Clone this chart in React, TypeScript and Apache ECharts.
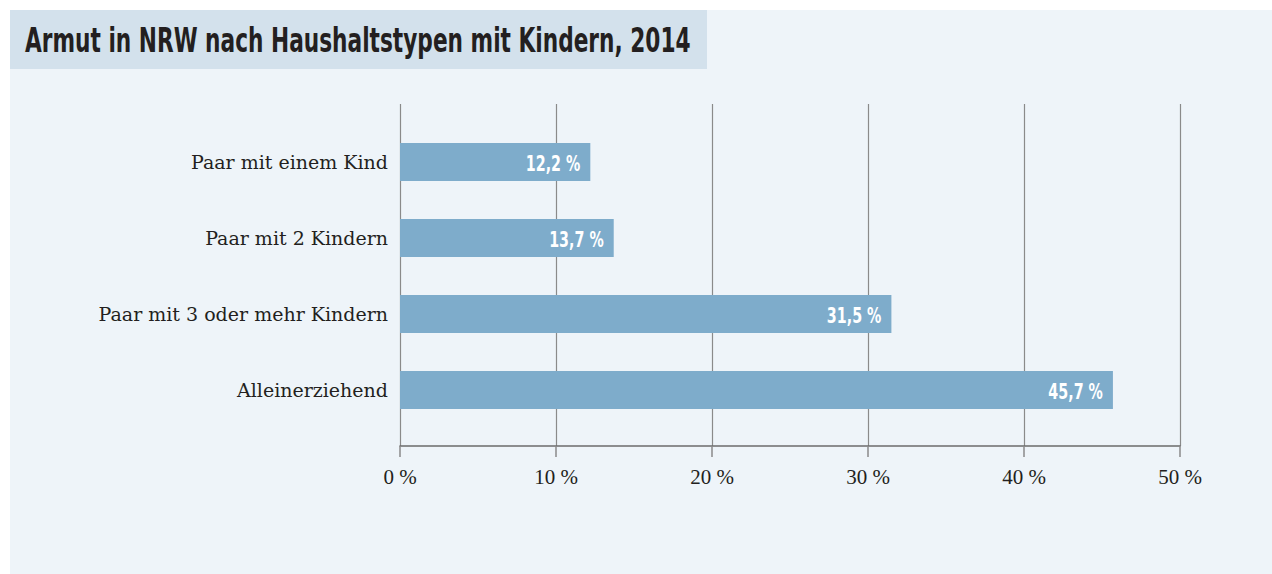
import React, { useEffect, useRef } from "react";
import * as echarts from "echarts";

const titleText = "Armut in NRW nach Haushaltstypen mit Kindern, 2014";
const categories = [
  "Paar mit einem Kind",
  "Paar mit 2 Kindern",
  "Paar mit 3 oder mehr Kindern",
  "Alleinerziehend",
];
const values = [12.2, 13.7, 31.5, 45.7];
const axisMin = 0;
const axisMax = 50;
const axisInterval = 10;

const serif = "'Liberation Serif', 'Times New Roman', serif";
const catSerif = "'DejaVu Serif', serif";
const sans = "'DejaVu Sans', sans-serif";

const fmt = (v: number) => v.toFixed(1).replace(".", ",") + " %";

export default function App() {
  const ref = useRef<HTMLDivElement>(null);
  useEffect(() => {
    if (!ref.current) return;
    const chart = echarts.init(ref.current, null, { renderer: "svg" });
    chart.setOption({
      animation: false,
      backgroundColor: "#ffffff",
      graphic: [
        { type: "rect", left: 10, top: 10, shape: { width: 1262, height: 564 }, style: { fill: "#eef4f9" }, z: -10 },
        { type: "rect", left: 10, top: 10, shape: { width: 697, height: 59 }, style: { fill: "#d3e1ec" }, z: -9 },
        {
          type: "text",
          x: 25,
          y: 24,
          scaleX: 0.638,
          style: {
            text: titleText,
            fill: "#231f20",
            font: "bold 34px " + sans,
            verticalAlign: "top",
          },
        },
      ],
      grid: [
        { left: 400, width: 780, top: 104, height: 342, containLabel: false },
        { left: 400, width: 780, top: 124, height: 304, containLabel: false },
      ],
      xAxis: [
        {
          gridIndex: 0,
          type: "value",
          min: axisMin,
          max: axisMax,
          interval: axisInterval,
          axisLine: { show: true, lineStyle: { color: "#6b6b6b", width: 1.5 } },
          axisTick: { show: true, length: 11, lineStyle: { color: "#8a8a8a", width: 1.5 } },
          splitLine: { show: true, lineStyle: { color: "#8a8a8a", width: 1.2 } },
          axisLabel: {
            margin: 20,
            color: "#231f20",
            fontFamily: serif,
            fontSize: 21,
            formatter: (v: number) => v + " %",
          },
        },
        {
          gridIndex: 1,
          type: "value",
          min: axisMin,
          max: axisMax,
          show: false,
        },
      ],
      yAxis: [
        { gridIndex: 0, type: "value", show: false, min: 0, max: 1 },
        {
          gridIndex: 1,
          type: "category",
          inverse: true,
          data: categories,
          axisLine: { show: false },
          axisTick: { show: false },
          splitLine: { show: false },
          axisLabel: {
            margin: 12,
            color: "#231f20",
            fontFamily: catSerif,
            fontSize: 19,
          },
        },
      ],
      series: [
        {
          type: "bar",
          xAxisIndex: 1,
          yAxisIndex: 1,
          data: values,
          barWidth: 38,
          itemStyle: { color: "#7eaccb" },
        },
        {
          type: "custom",
          xAxisIndex: 1,
          yAxisIndex: 1,
          data: values.map((v, i) => [v, i]),
          encode: { x: 0, y: 1 },
          z: 5,
          renderItem: (params: any, api: any) => {
            const v = api.value(0);
            const idx = api.value(1);
            const pt = api.coord([v, idx]);
            return {
              type: "text",
              x: pt[0] - 10,
              y: pt[1] + 1,
              scaleX: 0.65,
              style: {
                text: fmt(v),
                fill: "#ffffff",
                font: "bold 22px " + sans,
                align: "right",
                verticalAlign: "middle",
              },
            };
          },
        },
      ],
    });
    return () => chart.dispose();
  }, []);
  return (
    <div
      ref={ref}
      style={{ position: "fixed", left: 0, top: 0, width: 1272, height: 574 }}
    />
  );
}
